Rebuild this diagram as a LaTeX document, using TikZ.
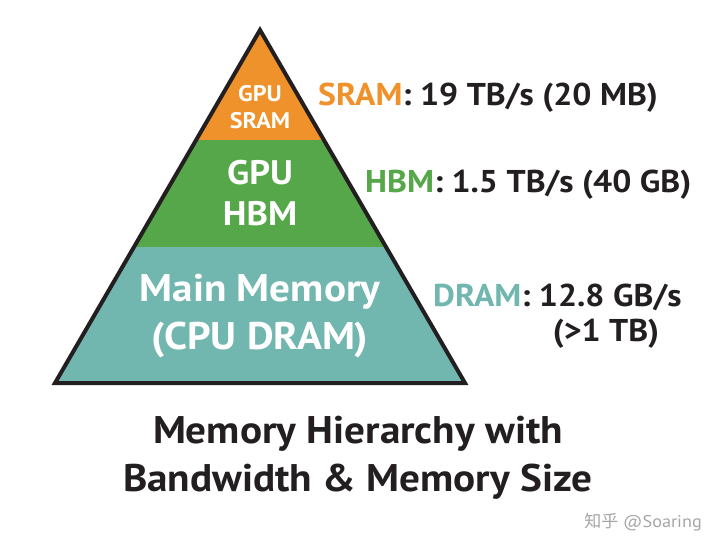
\documentclass[tikz,border=0pt]{standalone}
\usepackage{fontspec}
\setmainfont{PT Sans}[FakeStretch=1.07]
\newfontfamily\cjkfont{Noto Sans CJK SC}
\usetikzlibrary{positioning}
\definecolor{sramc}{HTML}{F0922B}
\definecolor{hbmc}{HTML}{56A64A}
\definecolor{dramc}{HTML}{72B6B0}
\definecolor{inkc}{HTML}{231F20}
\newcommand{\fsz}[1]{\fontsize{#1}{1.2\dimexpr#1pt\relax}\selectfont}
\tikzset{
  layertext/.style={text=white, font=\bfseries, align=center, inner sep=0pt},
  bwtext/.style={text=inkc, font=\bfseries\fsz{31.5}, anchor=west, inner sep=0pt}
}
\begin{document}
\begin{tikzpicture}[x=1pt,y=-1pt]
\useasboundingbox[fill=white] (0,0) rectangle (720,555);
\coordinate (apex) at (260,30);
\coordinate (bl) at (55,383);
\coordinate (br) at (465,383);
% layers
\begin{scope}
\clip (apex) -- (bl) -- (br) -- cycle;
\fill[sramc] (0,0) rectangle (720,140);
\fill[hbmc] (0,140) rectangle (720,247);
\fill[dramc] (0,247) rectangle (720,400);
\end{scope}
\draw[line width=4pt, line join=miter, inkc] (apex) -- (bl) -- (br) -- cycle;
% labels inside
\node[layertext, font=\bfseries\fsz{22.5}, text depth=0pt] (sram) at (260,107) {GPU\\[0pt]SRAM};
\node[layertext, font=\bfseries\fsz{34}] (hbm) at (260,193) {GPU\\[1pt]HBM};
\node[layertext, font=\bfseries\fsz{38.5}] (dram) at (260,316) {Main Memory\\[1pt](CPU DRAM)};
% bandwidths
\node[bwtext] (sramb) at (318,98) {\textcolor{sramc}{SRAM}: 19 TB/s (20 MB)};
\node[bwtext] (hbmb) at (365,185) {\textcolor{hbmc}{HBM}: 1.5 TB/s (40 GB)};
\node[bwtext] (dramb) at (433,297) {\textcolor{dramc}{DRAM}: 12.8 GB/s};
\node[text=inkc, font=\bfseries\fsz{31.5}, inner sep=0pt] (dramsz) at (606,334) {(\textgreater1 TB)};
% caption
\node[text=inkc, font=\bfseries\fsz{38.5}, align=center, inner sep=0pt] (title) at (358,458) {Memory Hierarchy with\\[2pt]Bandwidth \& Memory Size};
\node[text=black!35, font=\fsz{17}, anchor=east, inner sep=0pt] (mark) at (702,522) {{\cjkfont 知乎} @Soaring};
\end{tikzpicture}
\end{document}
